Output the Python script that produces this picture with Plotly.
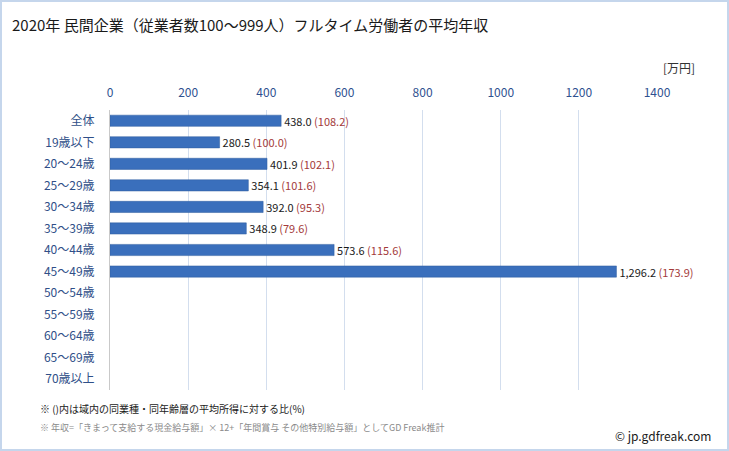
import plotly.graph_objects as go

categories = ["全体", "19歳以下", "20〜24歳", "25〜29歳", "30〜34歳", "35〜39歳", "40〜44歳",
              "45〜49歳", "50〜54歳", "55〜59歳", "60〜64歳", "65〜69歳", "70歳以上"]
incomes = [438.0, 280.5, 401.9, 354.1, 392.0, 348.9, 573.6, 1296.2, None, None, None, None, None]
ratios = [108.2, 100.0, 102.1, 101.6, 95.3, 79.6, 115.6, 173.9, None, None, None, None, None]
x_ticks = [0, 200, 400, 600, 800, 1000, 1200, 1400]

labels = []
for v, r in zip(incomes, ratios):
    if v is None:
        labels.append("")
    else:
        labels.append(f"<span style='color:#1a1a1a'>{v:,.1f}</span> <span style='color:#a33a3a'>({r:.1f})</span>")

fig = go.Figure()
fig.add_trace(go.Bar(
    y=categories, x=incomes, orientation="h",
    marker=dict(color="#3a6fbc", line=dict(color="#2e5c9e", width=0.5)),
    width=0.52,
    text=labels, textposition="outside", cliponaxis=False, constraintext="none",
    textfont=dict(size=11, family="Noto Sans CJK JP"),
    hoverinfo="skip",
))

fig.update_layout(
    width=729, height=451,
    margin=dict(l=110, r=72, t=110, b=61),
    paper_bgcolor="white", plot_bgcolor="white",
    showlegend=False,
    font=dict(family="Noto Sans CJK JP"),
    xaxis=dict(side="top", range=[0, 1400], tickvals=x_ticks, ticktext=[str(t) for t in x_ticks],
               showgrid=True, gridcolor="#d3deee", gridwidth=1, zeroline=False,
               tickfont=dict(size=12, color="#2f5190"), ticks="", ticklabelstandoff=10, fixedrange=True),
    yaxis=dict(autorange="reversed", categoryorder="array", categoryarray=categories,
               tickfont=dict(size=12, color="#2f4f88"), ticks="", ticklen=0, ticklabelstandoff=12,
               showline=True, linecolor="#c9c9c9", linewidth=1, showgrid=False, fixedrange=True),
    shapes=[dict(type="rect", xref="paper", yref="paper", x0=-109/547, x1=1+71/547,
                 y0=-60/280, y1=1+109/280, line=dict(color="#c5d6ec", width=2))],
    annotations=[
        dict(text="2020年 民間企業（従業者数100〜999人）フルタイム労働者の平均年収", xref="paper", yref="paper",
             x=-100/547, y=1+(110-25)/280, xanchor="left", yanchor="middle", showarrow=False,
             font=dict(size=15, color="#1a1a1a")),
        dict(text="[万円]", xref="paper", yref="paper", x=1+40/547, y=1+(110-67)/280,
             xanchor="right", yanchor="middle", showarrow=False, font=dict(size=12, color="#333333")),
        dict(text="※ ()内は域内の同業種・同年齢層の平均所得に対する比(%)", xref="paper", yref="paper",
             x=-72/547, y=-(408-390)/280, xanchor="left", yanchor="middle", showarrow=False,
             font=dict(size=10, color="#1a1a1a")),
        dict(text="※ 年収=「きまって支給する現金給与額」× 12+「年間賞与 その他特別給与額」としてGD Freak推計",
             xref="paper", yref="paper", x=-72/547, y=-(427-390)/280, xanchor="left", yanchor="middle",
             showarrow=False, font=dict(size=9, color="#8a8a8a")),
        dict(text="© jp.gdfreak.com", xref="paper", yref="paper", x=1+(713-657)/547, y=-(435-390)/280,
             xanchor="right", yanchor="middle", showarrow=False, font=dict(size=12, color="#1a1a1a")),
    ],
)

fig.write_html("out.html", config={"displayModeBar": False, "staticPlot": True},
               post_script="document.body.style.margin='0';document.body.style.overflow='hidden';")
